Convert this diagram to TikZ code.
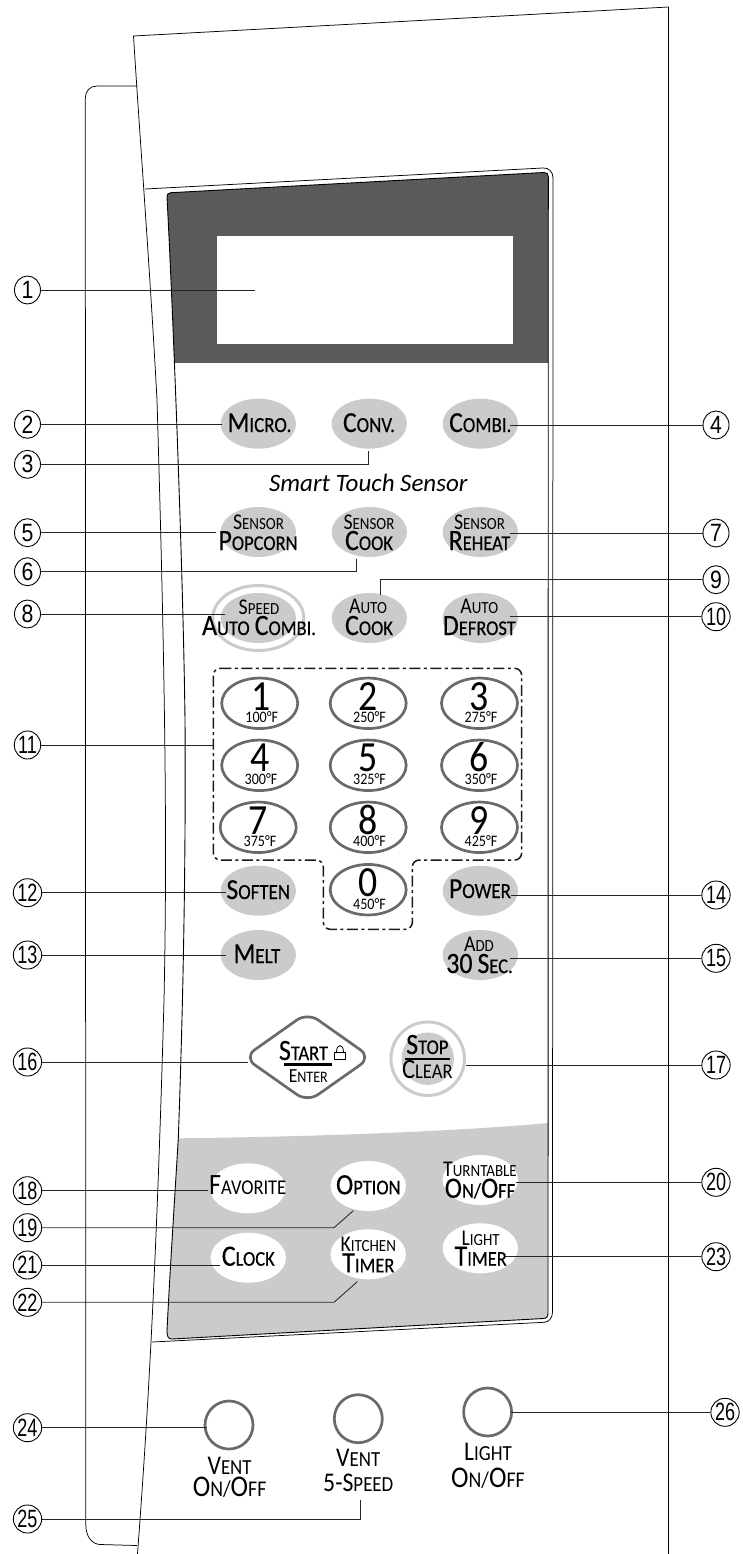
\documentclass[tikz,border=0pt]{standalone}
\usepackage{fontspec}
\setmainfont[FakeStretch=0.88]{Carlito}
\newfontfamily\kbold[FakeBold=0.35,FakeStretch=0.88]{Carlito}
\newfontfamily\kplain{Carlito}
\newfontfamily\numfont{Liberation Sans}
\usetikzlibrary{shapes.geometric}
\definecolor{keygray}{HTML}{CBCBCB}
\definecolor{ringgray}{HTML}{6A6A6A}
\definecolor{darkgray}{HTML}{5A5A5A}
\newcommand\SCc[4]{{\fontsize{#1}{#1}\selectfont #3\fontsize{#2}{#2}\selectfont #4}}
\newcommand\TopL[2]{\SCc{22.5}{17}{#1}{#2}}
\newcommand\BotL[2]{{\kbold\SCc{29.5}{21}{#1}{#2}}}
\newcommand\OneL[2]{{\kbold\SCc{29}{21.5}{#1}{#2}}}
\newcommand\Nm[2][0.85]{\scalebox{#1}[1]{\numfont\fontsize{25}{25}\selectfont #2}}
\newcommand\Dg[1]{{\fontsize{43}{43}\selectfont #1}}
\newcommand\Tmp[1]{{\fontsize{16}{16}\selectfont #1°F}}
\tikzset{
  body/.style={line width=0.75pt,black},
  conn/.style={line width=0.85pt,black!85},
  numc/.style={draw,ellipse,line width=0.9pt,minimum width=26pt,minimum height=28pt,inner sep=0pt,fill=white},
  gkey/.style={ellipse,fill=keygray,minimum width=75.4pt,minimum height=50pt,inner sep=0pt},
  wkey/.style={ellipse,fill=white,minimum width=75.4pt,minimum height=50pt,inner sep=0pt},
  nkey/.style={ellipse,draw=ringgray,line width=2.7pt,fill=white,minimum width=76pt,minimum height=50.5pt,inner sep=0pt},
  vkey/.style={circle,draw=ringgray,line width=2.7pt,fill=white,minimum size=48pt,inner sep=0pt},
  lab/.style={anchor=base,inner sep=0pt,text=black}
}
\begin{document}
\begin{tikzpicture}[x=1pt,y=-1pt]
\useasboundingbox (0,0) rectangle (743,1554);
% housing
\draw[body] (137.4,86) -- (97,86) .. controls (90,86) and (85.3,91) .. (85.3,98) -- (85.8,1525)
  .. controls (86,1537) and (92,1544) .. (100,1544.5) -- (137,1545.5);
\draw[body] (137.5,1554) .. controls (146,1440) and (156,1290) .. (164,1000)
  .. controls (167,860) and (166,700) .. (157,400) .. controls (150,270) and (140,140) .. (133.5,36)
  -- (668.5,7) -- (668.5,1554);
% panel outer line
\draw[body] (145,189) -- (543,168) .. controls (549,167.5) and (553,172) .. (553,178)
  -- (552.5,1312) .. controls (552.5,1318) and (549,1322) .. (544,1322.3) -- (152,1342);
% panel
\begin{scope}
  \clip (167,197) .. controls (172,290) and (183,560) .. (185,720) .. controls (186,860) and (183,1010) .. (178.3,1138)
    .. controls (174,1210) and (170,1270) .. (167,1331) .. controls (167,1336) and (168,1339) .. (172,1339)
    -- (543,1318.5) .. controls (546.5,1318.3) and (548,1317) .. (548,1313) -- (548.3,177)
    .. controls (548.3,174) and (547,172.3) .. (544,172.5) -- (171,192.7) .. controls (168,193) and (167,194) .. (167,197) -- cycle;
  \fill[darkgray] (160,160) rectangle (560,362.7);
  \fill[keygray] (160,1340) -- (160,1138.3) -- (178.3,1138.3) .. controls (300,1137) and (450,1132) .. (548.3,1123) -- (560,1123) -- (560,1340) -- cycle;
\end{scope}
\draw[line width=0.9pt,black] (167,197) .. controls (172,290) and (183,560) .. (185,720) .. controls (186,860) and (183,1010) .. (178.3,1138)
    .. controls (174,1210) and (170,1270) .. (167,1331) .. controls (167,1336) and (168,1339) .. (172,1339)
    -- (543,1318.5) .. controls (546.5,1318.3) and (548,1317) .. (548,1313) -- (548.3,177)
    .. controls (548.3,174) and (547,172.3) .. (544,172.5) -- (171,192.7) .. controls (168,193) and (167,194) .. (167,197) -- cycle;
\fill[white] (217,236) rectangle (513,344);
% gray keys
\node[gkey] (micro) at (258.3,423.7) {};
\node[gkey] (conv) at (369.3,423.7) {};
\node[gkey] (combi) at (480.3,423.7) {};
\node[gkey] (popcorn) at (258.3,532) {};
\node[gkey] (scook) at (369.3,532) {};
\node[gkey] (reheat) at (480.3,532) {};
\node[ellipse,draw=keygray,line width=3pt,minimum width=91pt,minimum height=65pt,inner sep=0pt] (speedring) at (258.3,618) {};
\node[gkey] (speed) at (258.3,618) {};
\node[gkey] (acook) at (369.3,618) {};
\node[gkey] (defrost) at (480.3,618) {};
\node[gkey] (soften) at (258.3,890.7) {};
\node[gkey] (power) at (480.3,890.7) {};
\node[gkey] (melt) at (258.3,955) {};
\node[gkey] (add) at (480.3,955) {};
% number keys
\node[nkey] (k1) at (259.7,703.3) {};
\node[nkey] (k2) at (368.2,703.3) {};
\node[nkey] (k3) at (479.5,703.3) {};
\node[nkey] (k4) at (259.7,765.3) {};
\node[nkey] (k5) at (368.2,765.3) {};
\node[nkey] (k6) at (479.5,765.3) {};
\node[nkey] (k7) at (258.2,827.3) {};
\node[nkey] (k8) at (368.2,827.3) {};
\node[nkey] (k9) at (479.5,827.3) {};
\node[nkey] (k0) at (368.2,889.7) {};
\draw[line width=1.5pt,black!90,dash pattern=on 11pt off 3.5pt on 3pt off 3.5pt,rounded corners=7pt]
  (213.3,668.3) -- (521.7,668.3) -- (521.7,860) -- (412.3,860) -- (412.3,929.3) -- (323.3,929.3) -- (323.3,860) -- (213.3,860) -- cycle;
% start, stop
\coordinate (startc) at (307.5,1057.3);
\draw[draw=ringgray,line width=2.7pt,fill=white,rounded corners=13pt] (244,1057.3) -- (307.5,1012.5) -- (371,1057.3) -- (307.5,1102) -- cycle;
\node[circle,draw=keygray,line width=3pt,minimum size=73.5pt,inner sep=0pt] (stopring) at (427.7,1058.7) {};
\node[circle,fill=keygray,minimum size=52.5pt,inner sep=0pt] (stop) at (427.7,1058.7) {};
% white keys
\node[wkey] (fav) at (247.8,1188.3) {};
\node[wkey] (opt) at (368.2,1186) {};
\node[wkey] (turn) at (480.3,1180) {};
\node[wkey] (clock) at (248.3,1257.7) {};
\node[wkey] (kit) at (368.2,1254.3) {};
\node[wkey] (ltim) at (480.3,1248.3) {};
% vent keys
\node[vkey] (vent) at (229,1425) {};
\node[vkey] (vfive) at (358.3,1418.7) {};
\node[vkey] (light) at (487.6,1412) {};
% number circles
\node[numc] (n1) at (27.5,290) {\Nm{1}};
\node[numc] (n2) at (27.5,424.3) {\Nm{2}};
\node[numc] (n3) at (27.5,464.3) {\Nm{3}};
\node[numc] (n4) at (716,425) {\Nm{4}};
\node[numc] (n5) at (27.5,532.7) {\Nm{5}};
\node[numc] (n6) at (27.5,571.7) {\Nm{6}};
\node[numc] (n7) at (716,533) {\Nm{7}};
\node[numc] (n8) at (27.5,614) {\Nm{8}};
\node[numc] (n9) at (716,579.7) {\Nm{9}};
\node[numc] (n10) at (716,616.7) {\Nm[0.72]{10}};
\node[numc] (n11) at (27.5,745) {\Nm[0.72]{11}};
\node[numc] (n12) at (27.5,892.7) {\Nm[0.72]{12}};
\node[numc] (n13) at (27.5,955) {\Nm[0.72]{13}};
\node[numc] (n14) at (716,895) {\Nm[0.72]{14}};
\node[numc] (n15) at (716,958.3) {\Nm[0.72]{15}};
\node[numc] (n16) at (27.5,1062) {\Nm[0.72]{16}};
\node[numc] (n17) at (716,1065) {\Nm[0.72]{17}};
\node[numc] (n18) at (27.5,1190.7) {\Nm[0.72]{18}};
\node[numc] (n19) at (27.5,1227.7) {\Nm[0.72]{19}};
\node[numc] (n20) at (716,1182.3) {\Nm[0.72]{20}};
\node[numc] (n21) at (27.5,1265) {\Nm[0.72]{21}};
\node[numc] (n22) at (27.5,1302.3) {\Nm[0.72]{22}};
\node[numc] (n23) at (716,1256.7) {\Nm[0.72]{23}};
\node[numc] (n24) at (27.5,1427.7) {\Nm[0.72]{24}};
\node[numc] (n25) at (27.5,1519) {\Nm[0.72]{25}};
\node[numc] (n26) at (725,1412.3) {\Nm[0.72]{26}};
% connector free ends
\coordinate (e1) at (254.5,290);
\coordinate (e2) at (221.7,424.3);
\coordinate (e3) at (368.3,451);
\coordinate (e4) at (510,425);
\coordinate (e5) at (216,532.7);
\coordinate (e6) at (356.3,559.3);
\coordinate (e7) at (510,533);
\coordinate (e8) at (225,614);
\coordinate (e9) at (380,595);
\coordinate (e10) at (510,616.7);
\coordinate (e11) at (212.7,745);
\coordinate (e12) at (226,892.7);
\coordinate (e13) at (226,955);
\coordinate (e14) at (510.7,895);
\coordinate (e15) at (510,958.3);
\coordinate (e16) at (248,1062);
\coordinate (e17) at (466,1065);
\coordinate (e18) at (208,1190.7);
\coordinate (b19) at (334,1227.7);
\coordinate (e19) at (353.3,1210.7);
\coordinate (e20) at (515.7,1182.3);
\coordinate (e21) at (220,1265);
\coordinate (b22) at (334,1302.3);
\coordinate (e22) at (357.3,1281.7);
\coordinate (e23) at (505,1256.7);
\coordinate (e24) at (207.4,1427.7);
\coordinate (e25) at (360,1500);
\coordinate (e26) at (511,1412.3);
% connectors
\draw[conn] (n1) -- (e1);
\draw[conn] (n2) -- (e2);
\draw[conn] (n3) -| (e3);
\draw[conn] (n4) -- (e4);
\draw[conn] (n5) -- (e5);
\draw[conn] (n6) -| (e6);
\draw[conn] (n7) -- (e7);
\draw[conn] (n8) -- (e8);
\draw[conn] (n9) -| (e9);
\draw[conn] (n10) -- (e10);
\draw[conn] (n11) -- (e11);
\draw[conn] (n12) -- (e12);
\draw[conn] (n13) -- (e13);
\draw[conn] (n14) -- (e14);
\draw[conn] (n15) -- (e15);
\draw[conn] (n16) -- (e16);
\draw[conn] (n17) -- (e17);
\draw[conn] (n18) -- (e18);
\draw[conn] (n19) -- (b19) -- (e19);
\draw[conn] (n20) -- (e20);
\draw[conn] (n21) -- (e21);
\draw[conn] (n22) -- (b22) -- (e22);
\draw[conn] (n23) -- (e23);
\draw[conn] (n24) -- (e24);
\draw[conn] (n25) -| (e25);
\draw[conn] (n26) -- (e26);
% texts
\node[lab] (tmicro) at (259.5,432) {\OneL{M}{ICRO.}};
\node[lab] (tconv) at (369,432) {\OneL{C}{ONV.}};
\node[lab] (tcombi) at (480.3,432) {\OneL{C}{OMBI.}};
\node[lab] (tsmart) at (368.3,491.7) {\kplain\fontsize{25}{25}\selectfont\itshape Smart Touch Sensor};
\node[lab] (ts1) at (258.5,529.3) {\TopL{S}{ENSOR}};
\node[lab] (tp1) at (258,550) {\BotL{P}{OPCORN}};
\node[lab] (ts2) at (369,529.3) {\TopL{S}{ENSOR}};
\node[lab] (tp2) at (369,550) {\BotL{C}{OOK}};
\node[lab] (ts3) at (479.5,529.3) {\TopL{S}{ENSOR}};
\node[lab] (tp3) at (479.5,550) {\BotL{R}{EHEAT}};
\node[lab] (ts4) at (259,614.3) {\TopL{S}{PEED}};
\node[lab] (tp4) at (259,635) {\BotL{A}{UTO}\hspace{5pt}\BotL{C}{OMBI.}};
\node[lab] (ts5) at (368,613.5) {\TopL{A}{UTO}};
\node[lab] (tp5) at (369,635) {\BotL{C}{OOK}};
\node[lab] (ts6) at (479.3,613.5) {\TopL{A}{UTO}};
\node[lab] (tp6) at (479.3,635) {\BotL{D}{EFROST}};
\node[lab] (d1) at (261,710.3) {\Dg{1}};
\node[lab] (d2) at (368.3,710.3) {\Dg{2}};
\node[lab] (d3) at (479.3,710.3) {\Dg{3}};
\node[lab] (d4) at (259.7,771.7) {\Dg{4}};
\node[lab] (d5) at (368.3,771.7) {\Dg{5}};
\node[lab] (d6) at (479.3,771.7) {\Dg{6}};
\node[lab] (d7) at (257.7,834) {\Dg{7}};
\node[lab] (d8) at (368.3,834) {\Dg{8}};
\node[lab] (d9) at (479.3,834) {\Dg{9}};
\node[lab] (d0) at (368.3,896.7) {\Dg{0}};
\node[lab] (f1) at (261.7,722.7) {\Tmp{100}};
\node[lab] (f2) at (369.5,722.7) {\Tmp{250}};
\node[lab] (f3) at (481,722.7) {\Tmp{275}};
\node[lab] (f4) at (261,784.3) {\Tmp{300}};
\node[lab] (f5) at (369.5,784.3) {\Tmp{325}};
\node[lab] (f6) at (481,784.3) {\Tmp{350}};
\node[lab] (f7) at (260,846.7) {\Tmp{375}};
\node[lab] (f8) at (369.5,846.7) {\Tmp{400}};
\node[lab] (f9) at (481,846.7) {\Tmp{425}};
\node[lab] (f0) at (369.5,909) {\Tmp{450}};
\node[lab] (tsoft) at (258.3,899) {\OneL{S}{OFTEN}};
\node[lab] (tpow) at (480,898) {\OneL{P}{OWER}};
\node[lab] (tmelt) at (257,963) {\OneL{M}{ELT}};
\node[lab] (tadd) at (479,951.7) {\TopL{A}{DD}};
\node[lab] (tthirty) at (479.5,973) {\kbold\fontsize{29.5}{29.5}\selectfont 30\,\BotL{S}{EC.}};
\node[lab] (tstart) at (303.5,1060) {\BotL{S}{TART}};
\draw[line width=2.6pt,black] (284.3,1064.7) -- (331.7,1064.7);
\node[lab] (tenter) at (308.3,1082.7) {\SCc{20}{16}{E}{NTER}};
\draw[line width=0.8pt,black] (334.5,1052) rectangle (345.5,1059.7);
\draw[line width=0.8pt,black] (336.5,1052) .. controls (336.5,1043.5) and (343.5,1043.5) .. (343.5,1052);
\node[lab] (tstop) at (427.3,1054) {\BotL{S}{TOP}};
\draw[line width=1.6pt,black] (405,1059) -- (450,1059);
\node[lab] (tclear) at (427.3,1078.3) {\SCc{28}{21}{C}{LEAR}};
\node[lab] (tfav) at (247.7,1194.3) {\SCc{29.5}{21}{F}{AVORITE}};
\node[lab] (topt) at (368.3,1194.3) {\BotL{O}{PTION}};
\node[lab] (ttu) at (480,1176) {\SCc{22.5}{17}{T}{URNTABLE}};
\node[lab] (ton) at (480,1197.7) {\BotL{O}{N/}\BotL{O}{FF}};
\node[lab] (tclk) at (248.3,1265.7) {\BotL{C}{LOCK}};
\node[lab] (tkit) at (368.3,1251.7) {\SCc{22.5}{17}{K}{ITCHEN}};
\node[lab] (ttim) at (368.3,1272.3) {\BotL{T}{IMER}};
\node[lab] (tli) at (480.7,1245) {\SCc{22.5}{17}{L}{IGHT}};
\node[lab] (ttim2) at (480.7,1265.7) {\BotL{T}{IMER}};
\node[lab] (tv1) at (229.6,1474) {\SCc{27}{21.5}{V}{ENT}};
\node[lab] (tv2) at (229.6,1496.7) {\SCc{30}{22.5}{O}{N/}\SCc{30}{22.5}{O}{FF}};
\node[lab] (tv3) at (358.3,1466.7) {\SCc{27}{21.5}{V}{ENT}};
\node[lab] (tv4) at (358.3,1491.7) {\SCc{27}{21.5}{5-S}{PEED}};
\node[lab] (tv5) at (488,1460.7) {\SCc{27}{21.5}{L}{IGHT}};
\node[lab] (tv6) at (488,1487.3) {\SCc{30}{22.5}{O}{N/}\SCc{30}{22.5}{O}{FF}};
\end{tikzpicture}
\end{document}
